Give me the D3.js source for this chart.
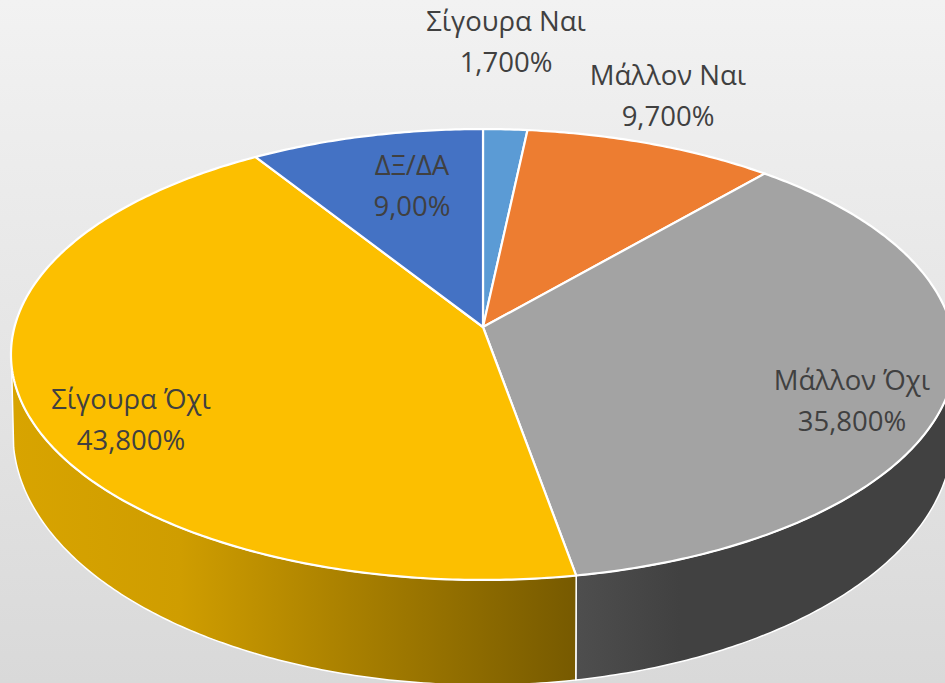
<!DOCTYPE html>
<html><head><meta charset="utf-8">
<script src="https://cdn.jsdelivr.net/npm/d3@7"></script>
<style>html,body{margin:0;padding:0;overflow:hidden;background:#e6e6e6}svg{display:block}</style>
</head><body><svg id="c" width="945" height="683"></svg>
<script>
const categories = ["Σίγουρα Ναι","Μάλλον Ναι","Μάλλον Όχι","Σίγουρα Όχι","ΔΞ/ΔΑ"];
const values = [1.7,9.7,35.8,43.8,9.0];
const valueLabels = ["1,700%","9,700%","35,800%","43,800%","9,00%"];
const colors = ["#5b9bd5","#ed7d31","#a3a3a3","#fcbf00","#4472c4"];
const labelCenters = [[506,22],[668,76],[852,381],[131,400],[412,166]];
const svg = d3.select("#c"), W=945, H=683, cx=483, k=0.122;
const defs = svg.append("defs");
function grad(id,attrs,stops){
  const g=defs.append("linearGradient").attr("id",id).attr("gradientUnits","userSpaceOnUse");
  Object.entries(attrs).forEach(([a,v])=>g.attr(a,v));
  stops.forEach(([o,c])=>g.append("stop").attr("offset",o).attr("stop-color",c));
}
grad("bg",{x1:0,y1:0,x2:0,y2:H},[[0,"#f2f2f2"],[1,"#d9d9d9"]]);
grad("gold",{x1:11,y1:0,x2:575,y2:0},[[0,"#d8a400"],[0.3,"#cf9d00"],[0.6,"#a98000"],[1,"#775a00"]]);
grad("dark",{x1:576,y1:0,x2:680,y2:0},[[0,"#4e4e4e"],[1,"#414141"]]);
svg.append("rect").attr("width",W).attr("height",H).attr("fill","url(#bg)");
const top3 = {A:468.5,B:222.1,y0:327}, bot3 = {A:466.5,B:247.3,y0:403.3};
const proj=(p,t)=>{const u=Math.sin(t),v=-Math.cos(t),d=1-k*v;return [cx+p.A*u/d,p.y0+p.B*v/d];};
const arcPts=(p,a,b)=>{const n=Math.max(2,Math.ceil(Math.abs(b-a)*90));return d3.range(n+1).map(i=>proj(p,a+(b-a)*i/n));};
const line=d3.line();
const arcs=d3.pie().sort(null).value(d=>d).startAngle(0).endAngle(2*Math.PI)(values);
const leftLimit=260*Math.PI/180, rightLimit=100*Math.PI/180;
const sideFill=["none","none","url(#dark)","url(#gold)","none"];
arcs.forEach((s,i)=>{
  const a=Math.max(s.startAngle,rightLimit), b=Math.min(s.endAngle,leftLimit);
  if(a>=b) return;
  const pts=arcPts(top3,a,b).concat(arcPts(bot3,a,b).reverse());
  svg.append("path").attr("d",line(pts)+"Z").attr("fill",sideFill[i]).attr("stroke","#fff").attr("stroke-width",1.5).attr("stroke-linejoin","round");
});
arcs.forEach((s,i)=>{
  const pts=[[cx,top3.y0]].concat(arcPts(top3,s.startAngle,s.endAngle));
  svg.append("path").attr("d",line(pts)+"Z").attr("fill",colors[i]).attr("stroke","#fff").attr("stroke-width",2.2).attr("stroke-linejoin","round");
});
const txt=svg.append("g").attr("font-family","'Open Sans','Noto Sans',sans-serif").attr("font-size",27.5).attr("fill","#404040").attr("text-anchor","middle");
categories.forEach((c,i)=>{
  const [x,y]=labelCenters[i];
  txt.append("text").attr("x",x).attr("y",y+9).text(c);
  txt.append("text").attr("x",x).attr("y",y+9+41).text(valueLabels[i]);
});
</script></body></html>
